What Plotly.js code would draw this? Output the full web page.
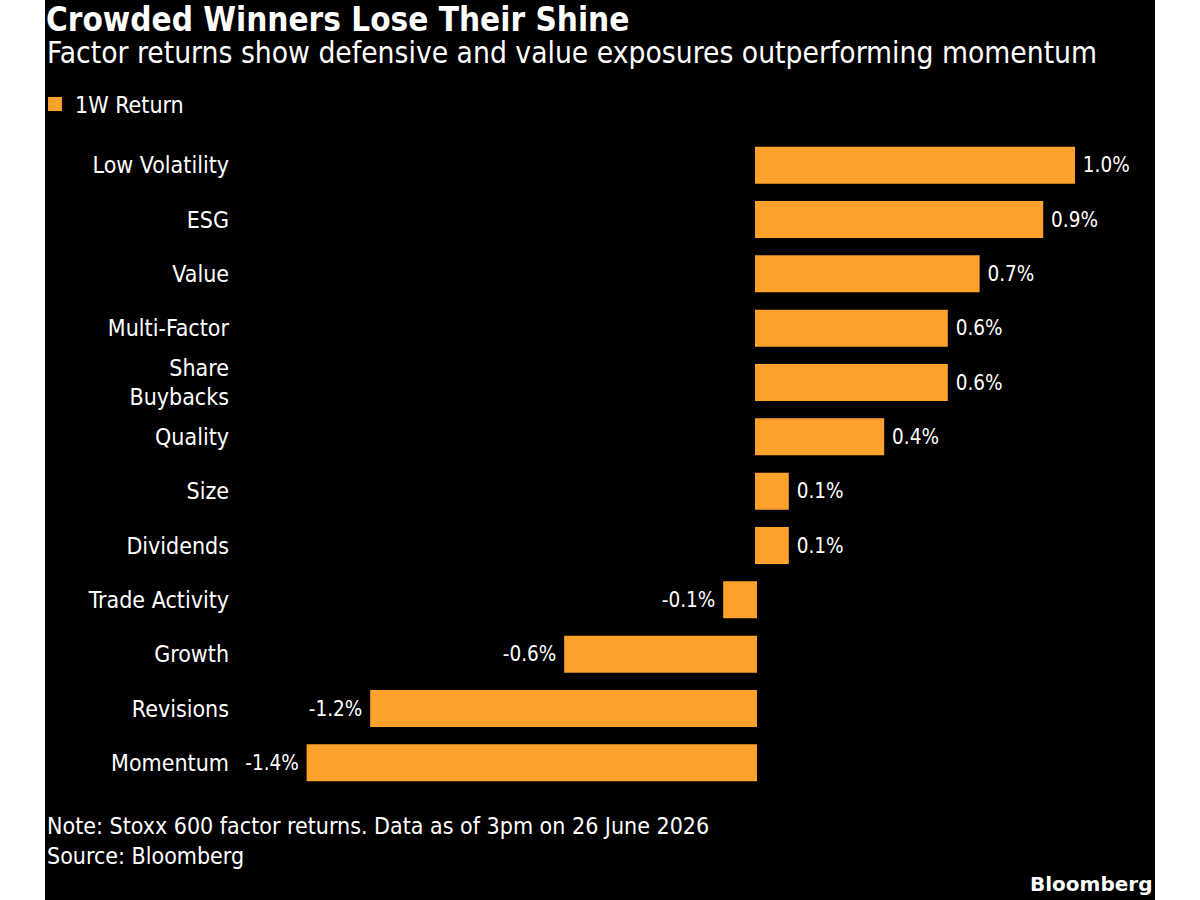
<!DOCTYPE html>
<html>
<head>
<meta charset="utf-8">
<script src="https://cdn.plot.ly/plotly-3.0.1.min.js"></script>
<style>
  html, body { margin: 0; padding: 0; background: #ffffff; }
  #chart { position: absolute; left: 45px; top: 0; width: 1110px; height: 900px; }
</style>
</head>
<body>
<div id="chart"></div>
<script>
const categories = ["Low Volatility", "ESG", "Value", "Multi-Factor", "Share<br>Buybacks", "Quality", "Size", "Dividends", "Trade Activity", "Growth", "Revisions", "Momentum"];
const returns1W = [1.0, 0.9, 0.7, 0.6, 0.6, 0.4, 0.1, 0.1, -0.1, -0.6, -1.21, -1.41];
const seriesName = "1W Return";

const FONT = "'DejaVu Sans Condensed', 'DejaVu Sans', sans-serif";
const ORANGE = "#FFA12D";
const NBSP = "\u00A0";

const trace = {
  type: "bar",
  orientation: "h",
  name: seriesName,
  y: categories,
  x: returns1W,
  width: 0.645,
  marker: { color: ORANGE, line: { color: ORANGE, width: 2 } },
  texttemplate: returns1W.map(v => v >= 0 ? NBSP + "%{x:.1f}%" : "%{x:.1f}%" + NBSP),
  textposition: "outside",
  constraintext: "none",
  cliponaxis: false,
  textfont: { family: FONT, size: 20.5, color: "#ffffff" },
  hoverinfo: "skip"
};

const L = 195, R = 25, T = 138, B = 110, W = 1110, H = 900;
const pw = W - L - R, ph = H - T - B;
const px = x => (x - L) / pw;          // div-pixel -> paper x
const py = y => (H - B - y) / ph;      // div-pixel -> paper y

const layout = {
  width: W,
  height: H,
  paper_bgcolor: "#000000",
  plot_bgcolor: "#000000",
  margin: { l: L, r: R, t: T, b: B, autoexpand: false },
  font: { family: FONT, color: "#ffffff", size: 20 },
  showlegend: true,
  legend: {
    orientation: "h",
    xref: "paper", yref: "paper",
    x: px(-10), xanchor: "left",
    y: py(104), yanchor: "middle",
    bgcolor: "rgba(0,0,0,0)",
    font: { family: FONT, size: 23, color: "#ffffff" }
  },
  title: {
    text: "<b>Crowded Winners Lose Their Shine</b>",
    font: { family: FONT, size: 33, color: "#ffffff" },
    xref: "container", yref: "container",
    x: 0.0, xanchor: "left",
    y: 1 - 19 / H, yanchor: "middle",
    pad: { l: 1 }
  },
  xaxis: {
    range: [-1.6226, 1.1761],
    showgrid: false,
    zeroline: false,
    showticklabels: false,
    showline: false,
    fixedrange: true
  },
  yaxis: {
    type: "category",
    categoryorder: "array",
    categoryarray: categories,
    range: [11.5, -0.5],
    showgrid: false,
    zeroline: false,
    showline: false,
    ticks: "",
    ticklabelstandoff: 10,
    tickfont: { family: FONT, size: 23, color: "#ffffff" },
    automargin: false,
    fixedrange: true
  },
  annotations: [
    {
      text: "Factor returns show defensive and value exposures outperforming momentum",
      xref: "paper", yref: "paper",
      x: px(0), y: py(53),
      xanchor: "left", yanchor: "middle",
      showarrow: false,
      font: { family: FONT, size: 29.7, color: "#ffffff" }
    },
    {
      text: "Note: Stoxx 600 factor returns. Data as of 3pm on 26 June 2026",
      xref: "paper", yref: "paper",
      x: px(0), y: py(826),
      xanchor: "left", yanchor: "middle",
      showarrow: false,
      font: { family: FONT, size: 23, color: "#ffffff" }
    },
    {
      text: "Source: Bloomberg",
      xref: "paper", yref: "paper",
      x: px(0), y: py(856),
      xanchor: "left", yanchor: "middle",
      showarrow: false,
      font: { family: FONT, size: 23, color: "#ffffff" }
    },
    {
      text: "<b>Bloomberg</b>",
      xref: "paper", yref: "paper",
      x: px(W - 1), y: py(884),
      xanchor: "right", yanchor: "middle",
      showarrow: false,
      font: { family: "'DejaVu Sans', sans-serif", size: 20, color: "#ffffff" }
    }
  ]
};

Plotly.newPlot("chart", [trace], layout, { displayModeBar: false, staticPlot: true });
</script>
</body>
</html>
